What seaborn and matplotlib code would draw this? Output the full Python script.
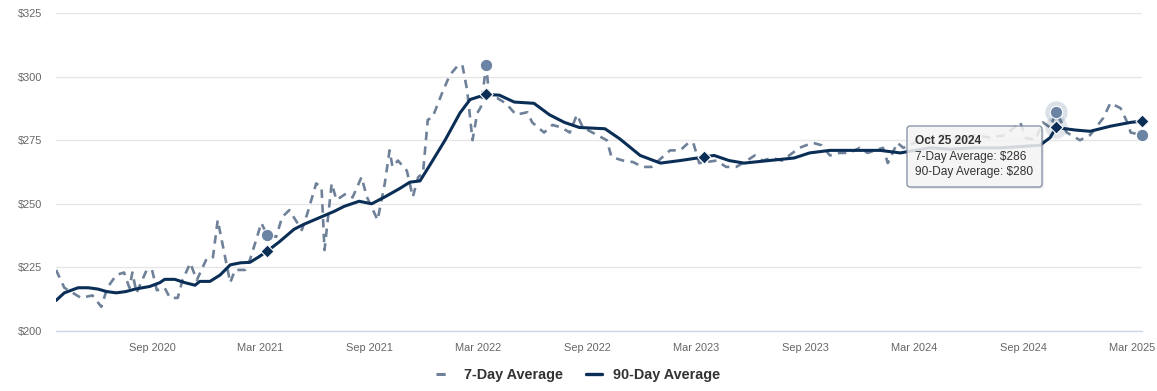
import pandas as pd
import matplotlib
matplotlib.use("Agg")
import matplotlib.pyplot as plt
import matplotlib.dates as mdates
from matplotlib.patches import FancyBboxPatch
from matplotlib.lines import Line2D
from matplotlib.ticker import FuncFormatter, MultipleLocator
from matplotlib.transforms import IdentityTransform
import seaborn as sns

# 7-day average
week_dates = ["2020-03-24", "2020-04-07", "2020-05-05", "2020-05-24", "2020-06-08", "2020-06-18",
              "2020-07-03", "2020-07-16", "2020-07-25", "2020-07-30", "2020-08-06", "2020-08-23",
              "2020-09-01", "2020-09-09", "2020-09-22", "2020-10-01", "2020-10-14", "2020-10-22",
              "2020-11-04", "2020-11-15", "2020-12-02", "2020-12-12", "2020-12-20", "2020-12-29",
              "2021-01-10", "2021-01-18", "2021-02-04", "2021-02-12", "2021-02-24", "2021-03-03",
              "2021-03-13", "2021-03-28", "2021-04-07", "2021-04-19", "2021-05-10", "2021-05-19",
              "2021-06-03", "2021-06-12", "2021-06-17", "2021-06-29", "2021-07-07", "2021-07-23",
              "2021-08-03", "2021-08-18", "2021-08-27", "2021-09-14", "2021-09-26", "2021-10-04",
              "2021-10-09", "2021-10-18", "2021-11-02", "2021-11-12", "2021-11-21", "2021-11-29",
              "2021-12-07", "2021-12-15", "2021-12-31", "2022-01-13", "2022-01-27", "2022-02-03",
              "2022-02-11", "2022-02-20", "2022-02-28", "2022-03-06", "2022-03-15", "2022-03-20",
              "2022-04-02", "2022-04-17", "2022-05-04", "2022-05-23", "2022-05-31", "2022-06-20",
              "2022-07-04", "2022-07-19", "2022-08-02", "2022-08-14", "2022-08-24", "2022-09-17",
              "2022-10-03", "2022-10-11", "2022-10-30", "2022-11-16", "2022-12-02", "2022-12-17",
              "2023-01-17", "2023-02-03", "2023-02-17", "2023-02-25", "2023-03-07", "2023-04-05",
              "2023-04-21", "2023-05-08", "2023-05-26", "2023-06-08", "2023-06-21", "2023-07-07",
              "2023-07-24", "2023-08-22", "2023-09-13", "2023-09-28", "2023-10-12", "2023-10-28",
              "2023-11-14", "2023-12-01", "2023-12-14", "2024-01-09", "2024-01-17", "2024-02-02",
              "2024-02-12", "2024-03-02", "2024-03-27", "2024-04-21", "2024-05-17", "2024-06-11",
              "2024-07-06", "2024-08-01", "2024-08-26", "2024-09-04", "2024-09-20", "2024-10-03",
              "2024-10-15", "2024-10-25", "2024-11-12", "2024-12-04", "2024-12-21", "2025-01-12",
              "2025-01-24", "2025-02-10", "2025-02-22", "2025-02-27", "2025-03-18"]
week_vals = [224, 217, 213, 214, 209.5, 217, 222, 223, 217, 223,
             215, 224, 224, 216, 217, 213, 213, 220, 226.7, 220,
             228.7, 229, 243.6, 233, 219, 224, 224, 228, 237, 242.5,
             237.7, 237, 244.8, 247.5, 239.7, 246, 258, 256.6, 231.8, 258,
             251.5, 254, 252.5, 260.5, 252.7, 243.6, 258, 271, 264.5, 267,
             263, 252.7, 260.5, 262, 283, 284, 293.5, 300.6, 304.5, 304.5,
             294.7, 275, 285.7, 288, 304.5, 292, 291.6, 289.5, 285, 286,
             282, 278, 281, 280, 278, 285, 280, 277, 275, 268.4,
             267, 266.4, 264.5, 264.5, 271, 271, 274, 274, 266, 267,
             264.5, 264.5, 267, 269, 267, 268, 267, 272, 274, 273,
             269, 270, 270, 272, 270, 272, 266, 274, 272, 274,
             276, 277, 275, 277, 276, 277, 282, 276, 275, 282,
             280, 286, 278, 275, 277, 283.7, 289.6, 287.6, 281.7, 278, 277]

# 90-day average
qtr_dates = ["2020-03-24", "2020-04-07", "2020-04-30", "2020-05-17", "2020-06-02", "2020-06-17",
             "2020-07-03", "2020-07-19", "2020-08-04", "2020-08-28", "2020-09-14", "2020-09-22",
             "2020-10-09", "2020-10-26", "2020-11-12", "2020-11-20", "2020-12-07", "2020-12-24",
             "2021-01-10", "2021-01-27", "2021-02-12", "2021-02-26", "2021-03-13", "2021-04-02",
             "2021-04-27", "2021-05-14", "2021-06-08", "2021-07-03", "2021-07-20", "2021-08-14",
             "2021-09-04", "2021-09-26", "2021-10-21", "2021-11-07", "2021-11-24", "2021-12-10",
             "2022-01-05", "2022-01-30", "2022-02-16", "2022-03-15", "2022-04-06", "2022-05-01",
             "2022-06-03", "2022-06-29", "2022-07-24", "2022-08-18", "2022-09-30", "2022-10-25",
             "2022-11-28", "2023-01-01", "2023-02-03", "2023-03-15", "2023-04-01", "2023-04-26",
             "2023-05-21", "2023-07-02", "2023-08-13", "2023-09-08", "2023-10-12", "2023-12-01",
             "2024-01-04", "2024-02-07", "2024-03-02", "2024-03-27", "2024-04-30", "2024-06-11",
             "2024-07-23", "2024-08-26", "2024-09-28", "2024-10-15", "2024-10-25", "2024-11-26",
             "2024-12-21", "2025-01-24", "2025-02-27", "2025-03-18"]
qtr_vals = [212, 215, 217, 217, 216.5, 215.5, 215, 215.5, 216.5, 217.5,
            219, 220.3, 220.3, 219, 218, 219.5, 219.5, 222,
            226, 226.8, 227, 229, 231.4, 235, 240, 242, 244.5, 247,
            249, 251, 250, 252.7, 256, 258.5, 259, 265,
            275, 285.7, 291, 293, 292.7, 290, 289.5, 285, 282, 280,
            279.5, 275.5, 269,
            266, 267, 268.4, 269, 267, 266, 267, 268, 270, 271, 271,
            271, 270, 271, 272, 271.5, 272, 272, 272.5, 273, 276,
            280, 279, 278.5, 280.5, 282, 282.5]

# highlighted points
week_mark_dates = ["2021-03-13", "2022-03-15", "2024-10-25", "2025-03-18"]
week_mark_vals = [237.7, 304.5, 286, 277]
qtr_mark_dates = ["2021-03-13", "2022-03-15", "2023-03-15", "2024-10-25", "2025-03-18"]
qtr_mark_vals = [231.4, 293, 268.4, 280, 282.5]
hover_date = "2024-10-25"

tip_title = "Oct 25 2024"
tip_lines = ["7-Day Average: $286", "90-Day Average: $280"]
series_names = ["7-Day Average", "90-Day Average"]

WEEK_C = "#6f8199"
WEEK_MARK_C = "#6b84a4"
QTR_C = "#0b2e56"

sns.set_style("white")
plt.rcParams["font.family"] = ["Liberation Sans", "DejaVu Sans"]

week = pd.DataFrame({"date": pd.to_datetime(week_dates), "price": week_vals})
qtr = pd.DataFrame({"date": pd.to_datetime(qtr_dates), "price": qtr_vals})
wm = pd.DataFrame({"date": pd.to_datetime(week_mark_dates), "price": week_mark_vals})
qm = pd.DataFrame({"date": pd.to_datetime(qtr_mark_dates), "price": qtr_mark_vals})

fig, ax = plt.subplots(figsize=(11.57, 3.91), dpi=100)
fig.subplots_adjust(left=56 / 1157, right=1142 / 1157, bottom=60 / 391, top=378 / 391)

sns.lineplot(data=week, x="date", y="price", ax=ax, color=WEEK_C, lw=1.9,
             linestyle=(0, (3.2, 2.4)), zorder=2)
sns.lineplot(data=qtr, x="date", y="price", ax=ax, color=QTR_C, lw=2.2, zorder=3)

# hover halo on the tooltip date
hw = wm[wm["date"] == pd.Timestamp(hover_date)]
hq = qm[qm["date"] == pd.Timestamp(hover_date)]
ax.scatter(hw["date"], hw["price"], s=260, color=WEEK_MARK_C, alpha=0.25, lw=0, zorder=4)
ax.scatter(hq["date"], hq["price"], s=260, color=QTR_C, alpha=0.12, lw=0, zorder=4)

sns.scatterplot(data=wm, x="date", y="price", ax=ax, color=WEEK_MARK_C, s=80,
                edgecolor="white", linewidth=0.8, zorder=5, clip_on=False)
sns.scatterplot(data=qm, x="date", y="price", ax=ax, color=QTR_C, marker="D", s=45,
                edgecolor="white", linewidth=0.8, zorder=6, clip_on=False)

ax.set_xlim(week["date"].min(), week["date"].max())
ax.set_ylim(200, 325)
ax.yaxis.set_major_locator(MultipleLocator(25))
ax.yaxis.set_major_formatter(FuncFormatter(lambda v, _: f"${v:.0f}"))
ax.xaxis.set_major_locator(mdates.MonthLocator(bymonth=[3, 9]))
ax.xaxis.set_major_formatter(mdates.DateFormatter("%b %Y"))
ax.set_xlabel("")
ax.set_ylabel("")

ax.yaxis.grid(True, color="#e6e6e6", lw=1)
ax.xaxis.grid(False)
ax.set_axisbelow(True)
for s in ["top", "right", "left"]:
    ax.spines[s].set_visible(False)
ax.spines["bottom"].set_color("#ccd6eb")
ax.spines["bottom"].set_linewidth(1)
ax.tick_params(axis="y", length=0, pad=10, labelsize=7.9, labelcolor="#666666")
ax.tick_params(axis="x", length=6.5, width=0.8, color="#ccd6eb", pad=2,
               labelsize=7.9, labelcolor="#666666")

handles = [Line2D([], [], color=WEEK_C, lw=2.2, linestyle=(0, (3.0, 2.4))),
           Line2D([], [], color=QTR_C, lw=2.4)]
leg = fig.legend(handles, series_names, loc="center", bbox_to_anchor=(0.5, 0.041),
                 ncol=2, frameon=False, handlelength=1.1, handletextpad=0.8,
                 columnspacing=1.6, prop={"weight": "bold", "size": 10.4})
for t in leg.get_texts():
    t.set_color("#333333")

# tooltip
px = IdentityTransform()
shadow = FancyBboxPatch((909, 391 - 189), 135, 61, boxstyle="round,pad=0,rounding_size=3",
                        transform=px, facecolor="#000000", alpha=0.08, edgecolor="none", zorder=9)
box = FancyBboxPatch((907, 391 - 187), 135, 61, boxstyle="round,pad=0,rounding_size=3",
                     transform=px, facecolor=(0.97, 0.97, 0.97, 0.85), edgecolor="#7d8ba0",
                     lw=0.9, zorder=10)
fig.add_artist(shadow)
fig.add_artist(box)
fig.text(915, 391 - 141, tip_title, transform=px, fontsize=8.6, fontweight="bold",
         color="#333333", va="center", ha="left", zorder=11)
for i, line in enumerate(tip_lines):
    fig.text(915, 391 - 157 - 15 * i, line, transform=px, fontsize=8.6,
             color="#333333", va="center", ha="left", zorder=11)

fig.savefig("out.png", dpi=100)
